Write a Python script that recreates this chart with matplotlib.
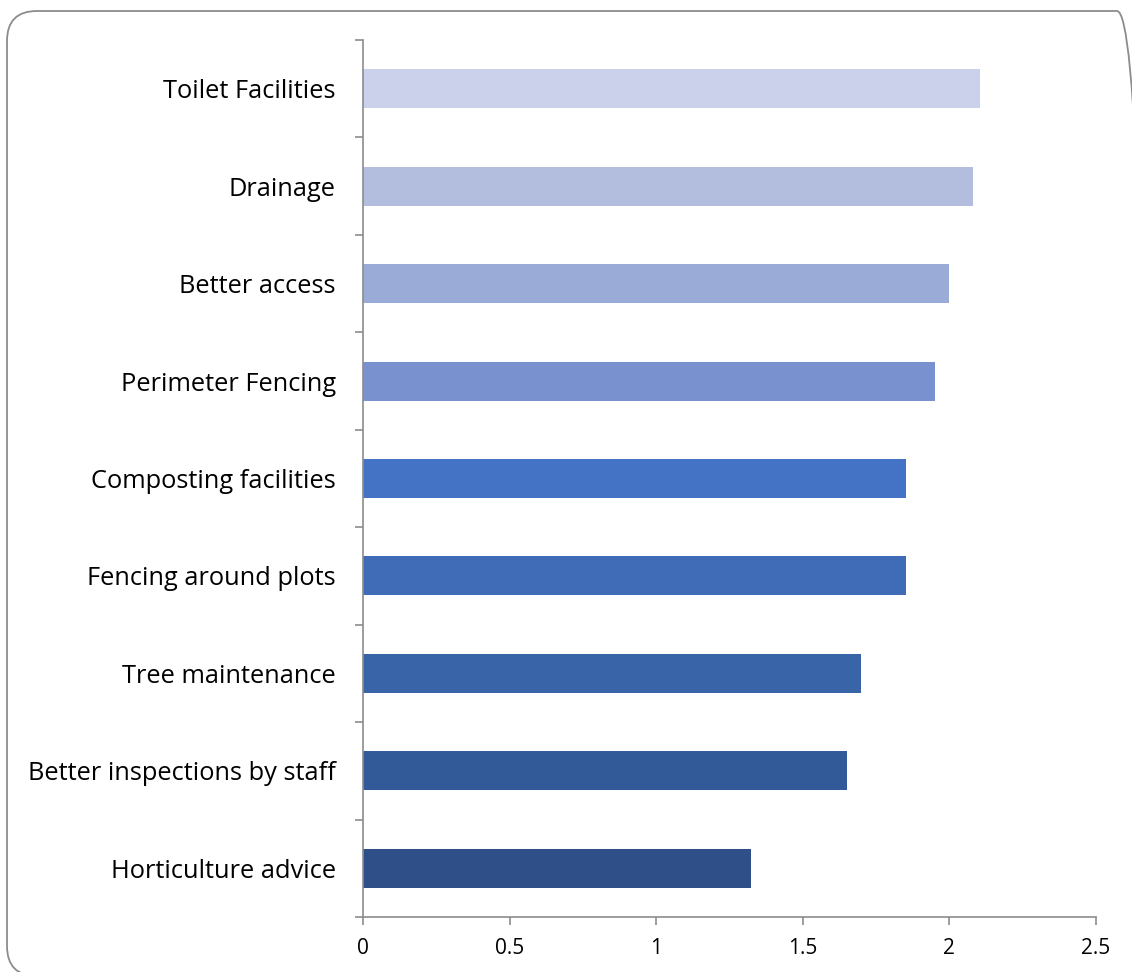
import matplotlib
matplotlib.use("Agg")
import matplotlib.pyplot as plt
from matplotlib.patches import FancyBboxPatch
from matplotlib.transforms import IdentityTransform

categories = ["Horticulture advice", "Better inspections by staff", "Tree maintenance",
              "Fencing around plots", "Composting facilities", "Perimeter Fencing",
              "Better access", "Drainage", "Toilet Facilities"]
values = [1.325, 1.65, 1.697, 1.853, 1.853, 1.95, 1.997, 2.08, 2.105]
colors = ["#2E4F88", "#335A98", "#3A64A8", "#3F6BB7", "#4472C4",
          "#7A91D0", "#9BABD8", "#B3BEDE", "#CBD1EA"]
xticks = [0, 0.5, 1, 1.5, 2, 2.5]
xticklabels = ["0", "0.5", "1", "1.5", "2", "2.5"]

plt.rcParams['font.family'] = ['Open Sans', 'DejaVu Sans']

W, H = 1132, 972
fig = plt.figure(figsize=(W/100, H/100), dpi=100)
fig.patch.set_facecolor("white")

# rounded frame in pixel coordinates (origin bottom-left)
x0, x1, ytop, ybot = 7, 1147, 11, 976
border = FancyBboxPatch((x0, H - ybot), x1 - x0, ybot - ytop,
                        boxstyle="round,pad=0,rounding_size=30",
                        transform=IdentityTransform(), facecolor="none",
                        edgecolor="#8c8c8c", linewidth=1.3, mutation_scale=1)
border.set_clip_on(False)
fig.patches.append(border)

ax = fig.add_axes([363/W, 1 - 917/H, (1096 - 363)/W, (917 - 40)/H])
y = list(range(len(categories)))
ax.barh(y, values, height=0.4, color=colors)
ax.set_xlim(0, 2.5)
ax.set_ylim(-0.5, len(categories) - 0.5)
ax.set_xticks(xticks)
ax.set_xticklabels(xticklabels, fontsize=15)
ax.set_yticks(y)
ax.set_yticklabels(categories, fontsize=18.3)
ax.set_yticks([i - 0.5 for i in range(len(categories) + 1)], minor=True)
ax.tick_params(axis='y', which='major', length=0, pad=19.5)
ax.tick_params(axis='y', which='minor', length=6, color="#8c8c8c", width=1.2)
ax.tick_params(axis='x', length=6, color="#8c8c8c", width=1.2, pad=9)
for s in ["top", "right"]:
    ax.spines[s].set_visible(False)
for s in ["left", "bottom"]:
    ax.spines[s].set_color("#8c8c8c")
    ax.spines[s].set_linewidth(1.2)

fig.savefig("out.png", dpi=100, facecolor="white")
